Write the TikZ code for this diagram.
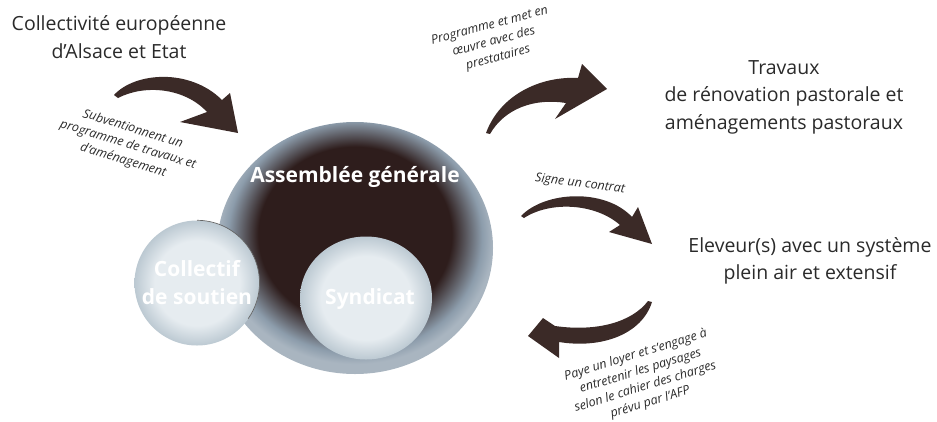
\documentclass[tikz,border=0pt]{standalone}
\usepackage{fontspec}
\setmainfont{Open Sans}
\usetikzlibrary{shapes.geometric}

\definecolor{brun}{HTML}{3B2A27}
\definecolor{agfonce}{HTML}{2E1D1C}
\definecolor{agbord}{HTML}{8C9CAB}
\definecolor{clair}{HTML}{E6ECF0}
\definecolor{clairbord}{HTML}{BCC9D2}
\definecolor{texte}{HTML}{2A2A2A}

\pgfdeclareradialshading{assemblee}{\pgfpoint{0bp}{4bp}}{color(0bp)=(agfonce); color(17.5bp)=(agfonce); color(23bp)=(agbord); color(25bp)=(agbord!75!white); color(50bp)=(agbord!75!white)}
\pgfdeclareradialshading{bulle}{\pgfpoint{0bp}{0bp}}{color(0bp)=(clair); color(17bp)=(clair); color(25bp)=(clairbord); color(50bp)=(clairbord)}

\tikzset{
 titre/.style={font=\fontsize{19.5}{27.5}\selectfont, text=texte, align=center},
 action/.style={font=\fontsize{12.5}{16.5}\selectfont\itshape, text=texte, align=center},
 bulletexte/.style={font=\fontsize{21}{28}\selectfont\bfseries, text=white, align=center},
 fleche/.style={fill=brun},
}

\begin{document}
\begin{tikzpicture}[x=1pt,y=-1pt]
 \useasboundingbox (0,0) rectangle (937,421);
 % bulles
 \node[ellipse, minimum width=276pt, minimum height=252pt, shade, shading=assemblee] (ag) at (355,248) {};
 \node[circle, minimum size=125pt, shade, shading=bulle] (cs) at (197,283) {};
 \draw[black!60, line width=0.7pt] (cs.north) arc[start angle=90, end angle=-35, radius=62.5pt];
 \node[ellipse, minimum width=132pt, minimum height=123pt, shade, shading=bulle] (synd) at (366,298) {};
 \node[bulletexte] (agt) at (355,177) {Assemblée générale};
 \node[bulletexte] (cst) at (197,283) {Collectif\\de soutien};
 \node[bulletexte] (syndt) at (370,299) {Syndicat};
 % acteurs
 \node[titre] (cea) at (119,37) {Collectivité européenne\\d'Alsace et Etat};
 \node[titre] (trav) at (784,97) {Travaux\\de rénovation pastorale et\\aménagements pastoraux};
 \node[titre] (elev) at (810,261) {Eleveur(s) avec un système\\plein air et extensif};
 % fleches
 \fill[fleche] (114,95) .. controls (135,72) and (190,68) .. (222,100) -- (230,93) -- (238,133)
  -- (180,122) -- (207,112) .. controls (185,88) and (145,84) .. (118,98) -- cycle;
 \fill[fleche] (486,133) .. controls (500,95) and (540,76) .. (578,78) -- (582,64) -- (607,89)
  -- (555,119) -- (566,103) .. controls (535,98) and (505,108) .. (490,134) -- cycle;
 \fill[fleche] (521,216) .. controls (545,191) and (605,188) .. (632,217) -- (638,207) -- (652,244)
  -- (609,232) -- (620,225) .. controls (595,203) and (550,201) .. (524,218) -- cycle;
 \fill[fleche] (652,302) .. controls (642,334) and (602,349) .. (559,342) -- (559,358) -- (528,336)
  -- (543,318) -- (555,326) .. controls (597,332) and (632,322) .. (648,301) -- cycle;
 % actions
 \node[action, rotate=-17] (subv) at (128,145) {Subventionnent un\\programme de travaux et\\d'aménagement};
 \node[action, rotate=15] (prog) at (494,42) {Programme et met en\\œuvre avec des\\prestataires};
 \node[action, rotate=-7] (signe) at (580,184) {Signe un contrat};
 \node[action, rotate=17] (paye) at (643,379) {Paye un loyer et s'engage à\\entretenir les paysages\\selon le cahier des charges\\prévu par l'AFP};
\end{tikzpicture}
\end{document}
